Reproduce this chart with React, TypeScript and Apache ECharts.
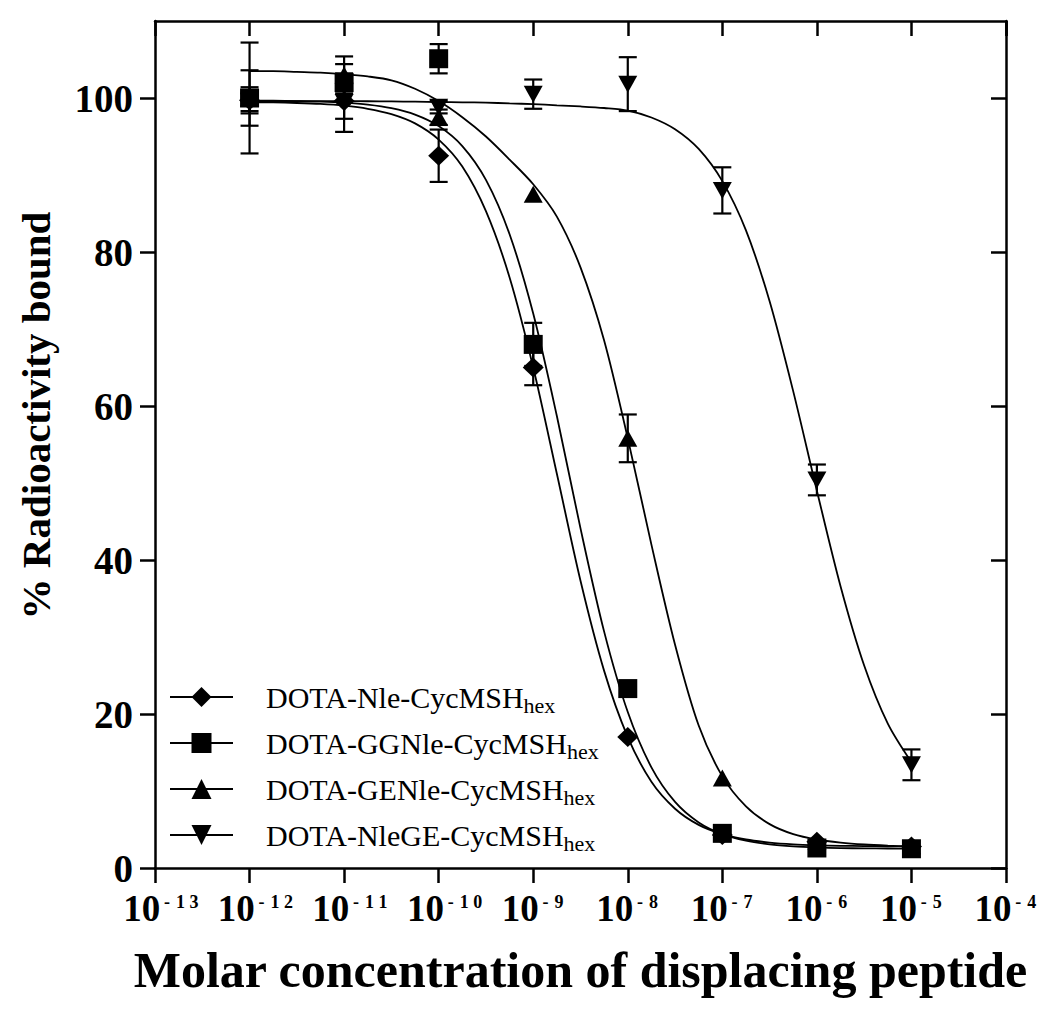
import React, { useEffect, useRef } from 'react';
import * as echarts from 'echarts';

const FONT = '"Liberation Serif", "Times New Roman", serif';

const SERIES_NAMES = ['DOTA-Nle-CycMSH', 'DOTA-GGNle-CycMSH', 'DOTA-GENle-CycMSH', 'DOTA-NleGE-CycMSH'];
const SUBSCRIPT = 'hex';

// measured concentrations (exponent of 10, mol/L)
const CONC_EXP = [-12, -11, -10, -9, -8, -7, -6, -5];

// measured % radioactivity bound (mean) and error
const NLE_MEAN = [99.7, 99.6, 92.5, 65.0, 17.0, 4.3, 3.4, 2.8];
const NLE_ERR = [1.7, 2.3, 3.4, 2.3, 0, 0, 0, 0];
const GGNLE_MEAN = [100.0, 102.0, 105.1, 68.0, 23.3, 4.5, 2.6, 2.5];
const GGNLE_ERR = [7.2, 2.4, 1.9, 2.8, 0, 0, 0, 0];
const GENLE_MEAN = [100.0, 103.0, 97.5, 87.5, 55.8, 11.7, 3.5, 2.9];
const GENLE_ERR = [3.6, 2.4, 1.0, 0, 3.1, 0, 0, 0];
const NLEGE_MEAN = [99.5, 99.4, 98.8, 100.5, 101.8, 88.0, 50.4, 13.4];
const NLEGE_ERR = [1.2, 3.8, 0.8, 1.9, 3.5, 3.0, 2.0, 2.0];

// fitted curves, every quarter decade
const CURVE_EXP = [-12, -11.75, -11.5, -11.25, -11, -10.75, -10.5, -10.25, -10, -9.75, -9.5, -9.25, -9, -8.75, -8.5, -8.25, -8, -7.75, -7.5, -7.25, -7, -6.75, -6.5, -6.25, -6, -5.75, -5.5, -5.25, -5];
const NLE_FIT = [99.45, 99.42, 99.35, 99.23, 99.0, 98.6, 97.9, 96.7, 94.6, 91.1, 85.3, 76.7, 65.0, 51.2, 37.3, 25.6, 17.0, 11.2, 7.7, 5.6, 4.4, 3.7, 3.3, 3.07, 2.95, 2.88, 2.85, 2.82, 2.81];
const GGNLE_FIT = [99.67, 99.65, 99.6, 99.53, 99.39, 99.14, 98.68, 97.85, 96.36, 93.76, 89.37, 82.3, 72.0, 58.7, 44.1, 30.7, 20.25, 13.07, 8.58, 5.92, 4.4, 3.55, 3.07, 2.81, 2.67, 2.59, 2.55, 2.53, 2.52];
const GENLE_FIT = [103.5, 103.5, 103.4, 103.3, 103.1, 102.8, 102.3, 101.2, 99.6, 97.5, 95.0, 92.0, 88.8, 84.6, 78.0, 68.5, 55.8, 42.0, 29.0, 18.5, 11.9, 8.0, 5.7, 4.4, 3.7, 3.3, 3.05, 2.9, 2.8];
const NLEGE_FIT = [99.6, 99.6, 99.6, 99.6, 99.59, 99.58, 99.56, 99.52, 99.47, 99.44, 99.4, 99.3, 99.2, 99.05, 98.9, 98.7, 98.37, 97.47, 95.94, 93.38, 89.2, 82.8, 73.6, 61.9, 49.0, 36.6, 26.3, 18.75, 13.74];

const Y_TICKS = [0, 20, 40, 60, 80, 100];
const X_MIN_EXP = -13;
const X_MAX_EXP = -4;

const SYMBOLS = ['diamond', 'rect', 'triangle', 'path://M0,0L20,0L10,18Z'];
const SYMBOL_SIZES: any[] = [[21, 20], [19, 19], [19, 17], [19, 17]];

const MEANS = [NLE_MEAN, GGNLE_MEAN, GENLE_MEAN, NLEGE_MEAN];
const ERRS = [NLE_ERR, GGNLE_ERR, GENLE_ERR, NLEGE_ERR];
const FITS = [NLE_FIT, GGNLE_FIT, GENLE_FIT, NLEGE_FIT];

export default function App() {
  const ref = useRef<HTMLDivElement>(null);
  useEffect(() => {
    if (!ref.current) return;
    const chart = echarts.init(ref.current, null, { renderer: 'svg' });
    const conc = CONC_EXP.map((e) => Math.pow(10, e));
    const curveX = CURVE_EXP.map((e) => Math.pow(10, e));

    const axisLineStyle = { color: '#000', width: 2.5 };

    const curveSeries = SERIES_NAMES.map((name, i) => ({
      type: 'line',
      name,
      data: curveX.map((x, j) => [x, FITS[i][j]]),
      smooth: 0.3,
      symbol: SYMBOLS[i],
      showSymbol: false,
      lineStyle: { color: '#000', width: 1.8 },
      itemStyle: { color: '#000' },
      z: 2,
    }));

    const markerSeries = SERIES_NAMES.map((name, i) => ({
      type: 'scatter',
      name: name + ' data',
      data: conc.map((x, j) => [x, MEANS[i][j]]),
      symbol: SYMBOLS[i],
      symbolSize: SYMBOL_SIZES[i],
      itemStyle: { color: '#000', opacity: 1 },
      z: 4,
    }));

    const errData: number[][] = [];
    SERIES_NAMES.forEach((_, i) => {
      conc.forEach((x, j) => errData.push([x, MEANS[i][j], ERRS[i][j]]));
    });

    const errSeries = {
      type: 'custom',
      name: 'error bars',
      data: errData,
      encode: { x: 0, y: 1 },
      z: 3,
      renderItem: (params: any, api: any) => {
        const x = api.value(0);
        const y = api.value(1);
        const e = api.value(2);
        if (!e) return { type: 'group', children: [] };
        const top = api.coord([x, y + e]);
        const bot = api.coord([x, y - e]);
        const w = 9;
        const style = { stroke: '#000', lineWidth: 2.2 };
        return {
          type: 'group',
          children: [
            { type: 'line', shape: { x1: top[0], y1: top[1], x2: bot[0], y2: bot[1] }, style },
            { type: 'line', shape: { x1: top[0] - w, y1: top[1], x2: top[0] + w, y2: top[1] }, style },
            { type: 'line', shape: { x1: bot[0] - w, y1: bot[1], x2: bot[0] + w, y2: bot[1] }, style },
          ],
        };
      },
    };

    const option: any = {
      animation: false,
      backgroundColor: '#fff',
      grid: { left: 155, right: 44, top: 21, bottom: 145, containLabel: false },
      legend: {
        data: SERIES_NAMES,
        orient: 'vertical',
        left: 164,
        top: 677,
        itemWidth: 63,
        itemHeight: 25,
        itemGap: 12,
        inactiveColor: '#000',
        textStyle: {
          color: '#000',
          fontFamily: FONT,
          padding: [0, 0, 0, 28],
          rich: {
            m: { fontSize: 30, fontFamily: FONT, color: '#000', lineHeight: 30, verticalAlign: 'top' },
            s: { fontSize: 22, fontFamily: FONT, color: '#000', lineHeight: 22, verticalAlign: 'top', padding: [12, 0, 0, 0] },
          },
        },
        formatter: (name: string) => `{m|${name}}{s|${SUBSCRIPT}}`,
      },
      xAxis: [
        {
          type: 'log',
          logBase: 10,
          min: Math.pow(10, X_MIN_EXP),
          max: Math.pow(10, X_MAX_EXP),
          splitNumber: X_MAX_EXP - X_MIN_EXP,
          position: 'bottom',
          name: 'Molar concentration of displacing peptide',
          nameLocation: 'middle',
          nameGap: 77,
          nameTextStyle: { fontSize: 50, fontWeight: 'bold', fontFamily: FONT, color: '#000' },
          axisLine: { onZero: false, lineStyle: axisLineStyle },
          axisTick: { inside: false, length: 15, lineStyle: axisLineStyle },
          minorTick: { show: false },
          splitLine: { show: false },
          axisLabel: {
            margin: 22,
            color: '#000',
            showMinLabel: true,
            showMaxLabel: true,
            formatter: (v: number) => {
              const e = Math.round(Math.log10(v));
              const chars = String(e).split('');
              const pad = chars.length === 3 ? 'p3' : 'p2';
              return `{${pad}| }{b|10}` + chars.map((c) => `{s|${c}}`).join('');
            },
            rich: {
              p3: { width: 14, fontSize: 8 },
              p2: { width: 1, fontSize: 8 },
              b: { fontSize: 37, fontWeight: 'bold', fontFamily: FONT, color: '#000', lineHeight: 40, verticalAlign: 'top' },
              s: { fontSize: 18, fontWeight: 'bold', fontFamily: FONT, color: '#000', width: 13.5, align: 'center', lineHeight: 18, verticalAlign: 'top', padding: [3, 0, 0, 0] },
            },
          },
        },
        {
          type: 'log',
          logBase: 10,
          min: Math.pow(10, X_MIN_EXP),
          max: Math.pow(10, X_MAX_EXP),
          splitNumber: X_MAX_EXP - X_MIN_EXP,
          position: 'top',
          axisLine: { onZero: false, lineStyle: axisLineStyle },
          axisTick: { inside: true, length: 15, lineStyle: axisLineStyle },
          axisLabel: { show: false },
          splitLine: { show: false },
        },
      ],
      yAxis: [
        {
          type: 'value',
          min: 0,
          max: 110,
          position: 'left',
          name: '% Radioactivity bound',
          nameLocation: 'middle',
          nameGap: 99,
          nameTextStyle: { fontSize: 41, fontWeight: 'bold', fontFamily: FONT, color: '#000', padding: [0, 0, 0, 58] },
          axisLine: { show: true, onZero: false, lineStyle: axisLineStyle },
          axisTick: { show: true, inside: false, length: 15, customValues: Y_TICKS, lineStyle: axisLineStyle },
          axisLabel: { margin: 22, customValues: Y_TICKS, fontSize: 39, fontWeight: 'bold', fontFamily: FONT, color: '#000' },
          splitLine: { show: false },
        },
        {
          type: 'value',
          min: 0,
          max: 110,
          position: 'right',
          axisLine: { show: true, onZero: false, lineStyle: axisLineStyle },
          axisTick: { show: true, inside: true, length: 15, customValues: Y_TICKS, lineStyle: axisLineStyle },
          axisLabel: { show: false },
          splitLine: { show: false },
        },
      ],
      series: [...curveSeries, errSeries, ...markerSeries],
    };
    chart.setOption(option);
    return () => chart.dispose();
  }, []);
  return (
    <div
      ref={ref}
      style={{ position: 'absolute', left: 0, top: 0, width: 1050, height: 1013, background: '#fff' }}
    />
  );
}
